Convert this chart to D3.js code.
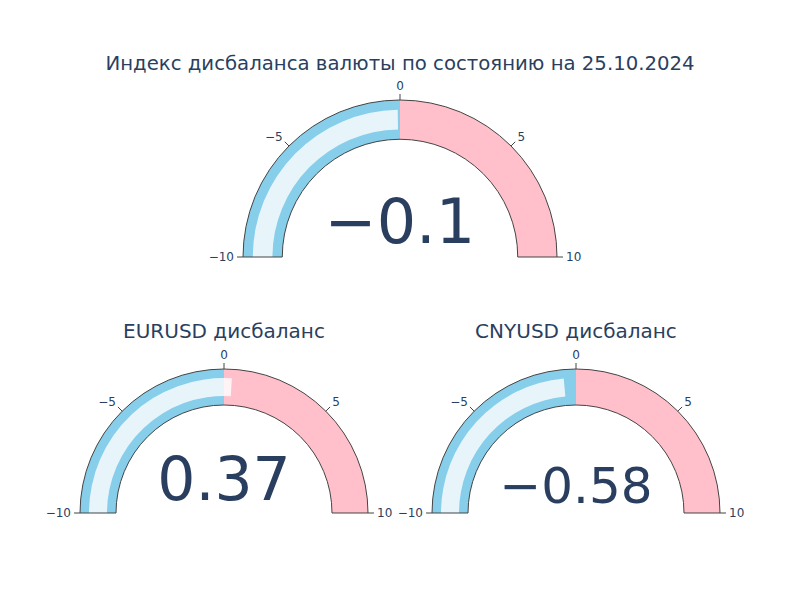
<!DOCTYPE html>
<html>
<head>
<meta charset="utf-8">
<script src="https://cdn.jsdelivr.net/npm/d3@7"></script>
<style>
  body { margin: 0; background: #fff; }
  svg { display: block; font-family: "DejaVu Sans", Verdana, sans-serif; }
</style>
</head>
<body>
<div id="chart"></div>
<script>
// data
const mainTitle = "Индекс дисбаланса валюты по состоянию на 25.10.2024";
const gaugeTitles = ["", "EURUSD дисбаланс", "CNYUSD дисбаланс"];
const gaugeValues = [-0.1, 0.37, -0.58];
const axisRange = [-10, 10];
const tickValues = [-10, -5, 0, 5, 10];
const stepRanges = [[-10, 0], [0, 10]];
const stepColors = ["#87ceeb", "#ffc0cb"];

const width = 800;
const height = 600;

// layout of each gauge (center, radius, number size)
const gaugeLayout = [
  { cx: 400, cy: 257, r: 157, numSize: 62, numY: -14, titleY: 338 },
  { cx: 224, cy: 513, r: 144, numSize: 60, numY: -13, titleY: 338 },
  { cx: 576, cy: 513, r: 144, numSize: 50, numY: -10, titleY: 338 }
];

const fmt = v => String(v).replace("-", "\u2212");

const svg = d3.select("#chart")
  .append("svg")
  .attr("width", width)
  .attr("height", height);

const angle = d3.scaleLinear()
  .domain(axisRange)
  .range([-Math.PI / 2, Math.PI / 2]);

svg.append("text")
  .attr("x", 400)
  .attr("y", 70)
  .attr("text-anchor", "middle")
  .style("font-size", "19.7px")
  .style("fill", "#2a3f5f")
  .text(mainTitle);

gaugeValues.forEach((val, i) => {
  const L = gaugeLayout[i];
  const inner = L.r * 0.75;
  const g = svg.append("g")
    .attr("transform", `translate(${L.cx}, ${L.cy})`);

  // steps
  const stepArc = d3.arc().innerRadius(inner).outerRadius(L.r);
  g.selectAll("path.step")
    .data(stepRanges)
    .enter()
    .append("path")
    .attr("class", "step")
    .attr("d", d => stepArc({ startAngle: angle(d[0]), endAngle: angle(d[1]) }))
    .attr("fill", (d, j) => stepColors[j]);

  // value bar
  const bw = (L.r - inner) * 0.5;
  const mid = (L.r + inner) / 2;
  g.append("path")
    .attr("d", d3.arc()
      .innerRadius(mid - bw / 2)
      .outerRadius(mid + bw / 2)({ startAngle: angle(axisRange[0]), endAngle: angle(val) }))
    .attr("fill", "rgba(255,255,255,0.8)");

  // border
  g.append("path")
    .attr("d", stepArc({ startAngle: angle(axisRange[0]), endAngle: angle(axisRange[1]) }))
    .attr("fill", "none")
    .attr("stroke", "#444")
    .attr("stroke-width", 1);

  // ticks
  const ticks = g.selectAll("g.tick")
    .data(tickValues)
    .enter()
    .append("g")
    .attr("class", "tick");

  ticks.append("line")
    .attr("x1", d => Math.sin(angle(d)) * L.r)
    .attr("y1", d => -Math.cos(angle(d)) * L.r)
    .attr("x2", d => Math.sin(angle(d)) * (L.r + 6))
    .attr("y2", d => -Math.cos(angle(d)) * (L.r + 6))
    .attr("stroke", "#444");

  ticks.append("text")
    .attr("x", d => Math.sin(angle(d)) * (L.r + 9))
    .attr("y", d => -Math.cos(angle(d)) * (L.r + 9))
    .attr("text-anchor", d => d < 0 ? "end" : d > 0 ? "start" : "middle")
    .attr("dy", d => d === 0 ? "-0.1em" : Math.abs(d) === 10 ? "0.35em" : "0.1em")
    .style("font-size", "12px")
    .style("fill", "#2a3f5f")
    .text(d => fmt(d));

  // number
  g.append("text")
    .attr("x", 0)
    .attr("y", L.numY)
    .attr("text-anchor", "middle")
    .style("font-size", L.numSize + "px")
    .style("fill", "#2a3f5f")
    .text(fmt(val));

  // title
  if (gaugeTitles[i]) {
    svg.append("text")
      .attr("x", L.cx)
      .attr("y", L.titleY)
      .attr("text-anchor", "middle")
      .style("font-size", "20px")
      .style("fill", "#2a3f5f")
      .text(gaugeTitles[i]);
  }
});
</script>
</body>
</html>
